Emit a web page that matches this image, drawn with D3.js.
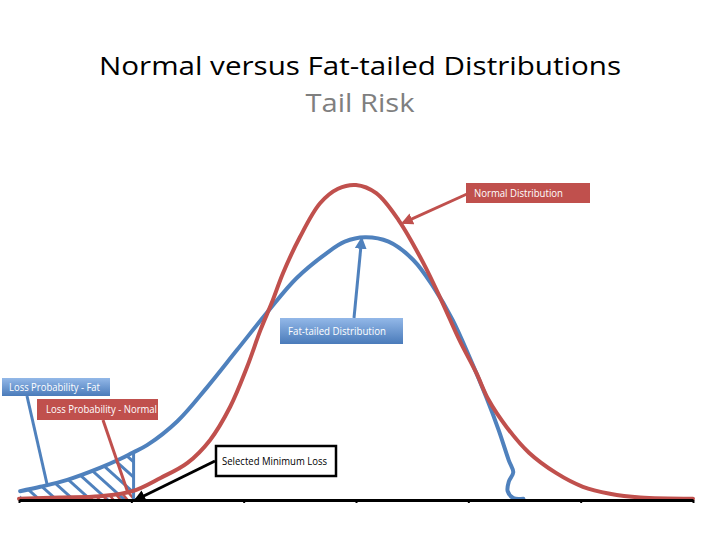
<!DOCTYPE html>
<html><head><meta charset="utf-8">
<script src="https://cdn.jsdelivr.net/npm/d3@7"></script>
<style>html,body{margin:0;padding:0;background:#fff;}</style>
</head><body><svg id="c" width="720" height="540"></svg>
<script>
// ---- data ----
const xTicks = [-3, -2, -1, 0, 1, 2, 3];
const normalX = [-3.00,-2.64,-2.28,-1.99,-1.74,-1.50,-1.30,-1.12,-0.97,-0.85,-0.75,-0.65,-0.50,-0.32,-0.16,0.00,0.18,0.38,0.60,0.77,0.92,1.07,1.18,1.34,1.54,1.78,2.02,2.26,2.53,3.00];
const normalY = [0.002,0.004,0.006,0.014,0.035,0.059,0.095,0.148,0.211,0.270,0.313,0.360,0.417,0.471,0.494,0.500,0.487,0.444,0.376,0.313,0.254,0.202,0.159,0.116,0.075,0.043,0.021,0.010,0.004,0.002];
const fatX = [-2.99,-2.81,-2.57,-2.28,-2.10,-1.99,-1.86,-1.59,-1.33,-1.06,-0.79,-0.53,-0.26,-0.10,0.08,0.29,0.51,0.69,0.86,1.01,1.16,1.27,1.36,1.40,1.36,1.35,1.40,1.49];
const fatY = [0.014,0.021,0.032,0.051,0.065,0.075,0.087,0.125,0.178,0.238,0.298,0.352,0.392,0.410,0.417,0.410,0.381,0.338,0.286,0.227,0.163,0.111,0.063,0.044,0.029,0.014,0.003,0.002];
const lossThreshold = -1.98;
const titleText = "Normal versus Fat-tailed Distributions";
const subtitleText = "Tail Risk";
const labelNormal = "Normal Distribution";
const labelFat = "Fat-tailed Distribution";
const labelLossFat = "Loss Probability - Fat";
const labelLossNormal = "Loss Probability - Normal";
const labelMinLoss = "Selected Minimum Loss";

// ---- drawing ----
const RED = "#C0504D", BLUE = "#4F81BD";
const svg = d3.select("#c");
const x = d3.scaleLinear().domain([-3, 3]).range([19, 693]);
const y = d3.scaleLinear().domain([0, 0.5]).range([500, 185]);
const normal = normalX.map((v, i) => [v, normalY[i]]);
const fat = fatX.map((v, i) => [v, fatY[i]]);

const defs = svg.append("defs");
const grad = defs.append("linearGradient").attr("id", "blueGrad").attr("x1", 0).attr("y1", 0).attr("x2", 0).attr("y2", 1);
grad.append("stop").attr("offset", "0%").attr("stop-color", "#93B8E8");
grad.append("stop").attr("offset", "100%").attr("stop-color", "#4A7BBA");
function marker(id, color) {
  defs.append("marker").attr("id", id).attr("viewBox", "0 0 10 10").attr("refX", 8).attr("refY", 5)
    .attr("markerWidth", 4).attr("markerHeight", 4).attr("orient", "auto")
    .append("path").attr("d", "M0,0 L10,5 L0,10 z").attr("fill", color);
}
marker("arRed", RED); marker("arBlue", BLUE); marker("arBlack", "#000");

// title
svg.append("text").attr("x", 360).attr("y", 75).attr("text-anchor", "middle")
  .attr("font-family", "Open Sans, sans-serif").attr("font-size", 26).attr("fill", "#000")
  .attr("textLength", 522).attr("lengthAdjust", "spacingAndGlyphs").text(titleText);
svg.append("text").attr("x", 360).attr("y", 112).attr("text-anchor", "middle")
  .attr("font-family", "Open Sans, sans-serif").attr("font-size", 26).attr("fill", "#7F7F7F")
  .attr("textLength", 109).attr("lengthAdjust", "spacingAndGlyphs").text(subtitleText);

// hatched tail areas
const areaGen = d3.area().x(d => x(d[0])).y0(y(0)).y1(d => y(d[1])).curve(d3.curveCatmullRom);
defs.append("clipPath").attr("id", "tailRect").append("rect")
  .attr("x", x(-3)).attr("y", 0).attr("width", x(lossThreshold) - x(-3)).attr("height", y(0) + 1);
defs.append("clipPath").attr("id", "fatArea").append("path").attr("d", areaGen(fat.slice(0, 10)));
defs.append("clipPath").attr("id", "normArea").append("path").attr("d", areaGen(normal.slice(0, 8)));

function hatch(clipId, color, spacing, width, slope) {
  const g = svg.append("g").attr("clip-path", "url(#tailRect)")
    .append("g").attr("clip-path", `url(#${clipId})`);
  for (let s = -100; s < 220; s += spacing) {
    g.append("line").attr("x1", s).attr("y1", 420).attr("x2", s + 80 / slope).attr("y2", 500)
      .attr("stroke", color).attr("stroke-width", width);
  }
}
hatch("fatArea", BLUE, 17, 3, 0.9);
hatch("normArea", RED, 7, 2.5, 1.2);

// vertical boundary of loss region
svg.append("line").attr("x1", x(lossThreshold)).attr("x2", x(lossThreshold))
  .attr("y1", y(0)).attr("y2", y(0.075)).attr("stroke", BLUE).attr("stroke-width", 3);

// curves
const lineGen = d3.line().x(d => x(d[0])).y(d => y(d[1])).curve(d3.curveCatmullRom);
svg.append("path").attr("d", lineGen(fat)).attr("fill", "none").attr("stroke", BLUE)
  .attr("stroke-width", 4).attr("stroke-linejoin", "round").attr("stroke-linecap", "round");
svg.append("path").attr("d", lineGen(normal)).attr("fill", "none").attr("stroke", RED)
  .attr("stroke-width", 4).attr("stroke-linejoin", "round").attr("stroke-linecap", "round");

// axis
const axis = svg.append("g").attr("transform", `translate(0,${y(0)})`)
  .call(d3.axisBottom(x).tickValues(xTicks).tickSize(3).tickSizeOuter(0).tickFormat(""));
axis.select(".domain").attr("stroke", "#000").attr("stroke-width", 3);
axis.selectAll(".tick line").attr("stroke", "#000").attr("stroke-width", 2);

// annotations
function box(x0, y0, w, h, fill, stroke, text, tx, tw, tcol) {
  svg.append("rect").attr("x", x0).attr("y", y0).attr("width", w).attr("height", h)
    .attr("fill", fill).attr("stroke", stroke || "none").attr("stroke-width", stroke ? 2.5 : 0);
  svg.append("text").attr("x", tx).attr("y", y0 + h / 2 + 3.5)
    .attr("font-family", "Open Sans, sans-serif").attr("font-size", 10).attr("fill", tcol)
    .attr("textLength", tw).attr("lengthAdjust", "spacingAndGlyphs").text(text);
}
function arrowLine(x1, y1, x2, y2, color, w, mk) {
  const l = svg.append("line").attr("x1", x1).attr("y1", y1).attr("x2", x2).attr("y2", y2)
    .attr("stroke", color).attr("stroke-width", w);
  if (mk) l.attr("marker-end", `url(#${mk})`);
}

// Normal Distribution
arrowLine(467, 194, x(0.42), y(0.44), RED, 3, "arRed");
box(466, 183, 124, 20, RED, null, labelNormal, 474, 89, "#fff");
// Fat-tailed Distribution
arrowLine(354, 318, x(0.05), y(0.414), BLUE, 3, "arBlue");
box(280, 318, 123, 26, "url(#blueGrad)", null, labelFat, 288, 98, "#fff");
// Loss Probability - Fat
arrowLine(27, 396, 47, 484, BLUE, 3, null);
box(2, 378, 108, 18, "url(#blueGrad)", null, labelLossFat, 9, 91, "#fff");
// Loss Probability - Normal
arrowLine(103, 420, 128, 493, RED, 3, null);
box(37, 399, 121, 21, RED, null, labelLossNormal, 46, 111, "#fff");
// Selected Minimum Loss
arrowLine(215, 461, x(lossThreshold) + 2, y(0), "#000", 3, "arBlack");
box(216, 446, 120, 30, "#fff", "#000", labelMinLoss, 222, 105, "#000");
</script></body></html>
